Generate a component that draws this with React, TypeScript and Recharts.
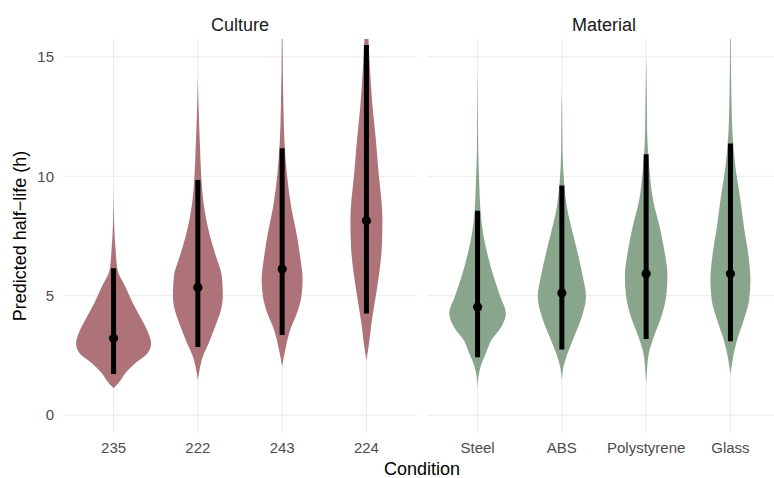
import React from 'react';
import { ComposedChart, Area, Scatter, XAxis, YAxis, CartesianGrid } from 'recharts';

type Profile = [number, number][]; // [value (h), half-width in category units]

const cultureCategories = ['235', '222', '243', '224'];
const materialCategories = ['Steel', 'ABS', 'Polystyrene', 'Glass'];
const yTicks = [0, 5, 10, 15];
const xTicks = [0, 1, 2, 3];

// point-interval summaries
const cultureMedian = [3.22, 5.34, 6.12, 8.14];
const cultureLower = [1.72, 2.85, 3.35, 4.25];
const cultureUpper = [6.15, 9.85, 11.17, 15.5];
const materialMedian = [4.53, 5.11, 5.92, 5.92];
const materialLower = [2.42, 2.75, 3.19, 3.09];
const materialUpper = [8.56, 9.61, 10.92, 11.37];

// violin outlines
const violin235: Profile = [[1.12, 0], [1.4, 0.071], [1.75, 0.139], [2.17, 0.257], [2.59, 0.403], [3.0, 0.445], [3.42, 0.415], [3.98, 0.336], [4.68, 0.229], [5.38, 0.139], [6.08, 0.047], [6.78, 0.027], [8.1, 0.006], [9.5, 0]];
const violin222: Profile = [[1.47, 0], [1.89, 0.02], [2.45, 0.059], [3.0, 0.127], [3.7, 0.205], [4.4, 0.273], [4.96, 0.296], [5.8, 0.285], [6.63, 0.217], [7.47, 0.146], [8.87, 0.068], [10.0, 0.04], [11.1, 0.027], [13.2, 0.006], [14.2, 0]];
const violin243: Profile = [[2.05, 0], [2.86, 0.045], [3.56, 0.095], [4.26, 0.175], [4.96, 0.228], [5.66, 0.243], [6.63, 0.214], [7.61, 0.17], [8.73, 0.107], [10.1, 0.056], [11.5, 0.027], [12.9, 0.015], [15.75, 0.004]];
const violin224: Profile = [[2.3, 0], [3.1, 0.035], [3.8, 0.058], [4.7, 0.098], [5.9, 0.15], [7.0, 0.182], [8.2, 0.19], [9.0, 0.178], [10.0, 0.148], [11.5, 0.113], [13.0, 0.071], [14.5, 0.042], [15.75, 0.024]];
const violinSteel: Profile = [[1.1, 0], [1.6, 0.01], [2.03, 0.036], [2.6, 0.1], [3.14, 0.165], [3.7, 0.283], [4.26, 0.336], [4.96, 0.27], [5.8, 0.19], [6.63, 0.125], [7.61, 0.065], [8.59, 0.034], [9.7, 0.02], [11.1, 0.008], [12.8, 0.004], [14.5, 0]];
const violinABS: Profile = [[1.47, 0], [2.03, 0.02], [2.59, 0.068], [3.28, 0.146], [4.12, 0.237], [4.96, 0.286], [5.8, 0.249], [6.63, 0.198], [7.61, 0.13], [8.73, 0.059], [9.7, 0.027], [11.1, 0.008], [12.8, 0.004], [13.5, 0]];
const violinPolystyrene: Profile = [[1.3, 0], [1.75, 0.008], [2.59, 0.032], [3.28, 0.091], [4.12, 0.181], [4.96, 0.237], [5.8, 0.253], [6.91, 0.215], [7.89, 0.16], [9.0, 0.083], [10.4, 0.036], [11.8, 0.012], [13.2, 0.008], [15.0, 0]];
const violinGlass: Profile = [[1.7, 0], [1.89, 0.008], [2.45, 0.032], [3.14, 0.079], [3.98, 0.158], [4.82, 0.222], [5.66, 0.237], [6.78, 0.21], [7.89, 0.16], [9.0, 0.119], [10.4, 0.059], [11.8, 0.024], [13.2, 0.012], [15.75, 0.004]];

const cultureViolins = [violin235, violin222, violin243, violin224];
const materialViolins = [violinSteel, violinABS, violinPolystyrene, violinGlass];

const cultureFill = '#ad7378';
const materialFill = '#89a58c';

function buildViolinRows(profiles: Profile[]) {
  const rows: any[] = [];
  profiles.forEach((profile, i) => {
    profile.forEach(([v, hw]) => {
      const row: any = { v };
      profiles.forEach((_, j) => {
        row['d' + j] = j === i ? [i - hw, i + hw] : [null, null];
      });
      rows.push(row);
    });
  });
  return rows;
}

function buildIntervals(lower: number[], median: number[], upper: number[]) {
  return lower.map((lo, i) => [
    { x: i, v: lo, median: false },
    { x: i, v: median[i], median: true },
    { x: i, v: upper[i], median: false },
  ]);
}

const intervalShape = (p: any) =>
  p && p.payload && p.payload.median ? <circle cx={p.cx} cy={p.cy} r={4.6} fill="#000" /> : <g />;

function applyScale(ax: any, t: number): number | undefined {
  const s = ax && ax.scale;
  if (typeof s === 'function') return s(t);
  if (s && typeof s.map === 'function') return s.map(t);
  if (s && typeof s.apply === 'function') return s.apply(t);
  return undefined;
}

const hGrid = (props: any) =>
  yTicks.map((t) => applyScale(props && props.yAxis, t)).filter((c) => typeof c === 'number' && isFinite(c as number)) as number[];
const vGrid = (props: any) =>
  xTicks.map((t) => applyScale(props && props.xAxis, t)).filter((c) => typeof c === 'number' && isFinite(c as number)) as number[];

type PanelProps = {
  categories: string[];
  profiles: Profile[];
  lower: number[];
  median: number[];
  upper: number[];
  fill: string;
  width: number;
  showY: boolean;
};

function Panel({ categories, profiles, lower, median, upper, fill, width, showY }: PanelProps) {
  const rows = buildViolinRows(profiles);
  const intervals = buildIntervals(lower, median, upper);
  return (
    <ComposedChart
      layout="vertical"
      width={width}
      height={478}
      data={rows}
      margin={{ top: 39, right: showY ? 3 : 0, bottom: 15, left: 0 }}
    >
      <CartesianGrid
        stroke="#ebebeb"
        strokeWidth={1}
        horizontalCoordinatesGenerator={hGrid}
        verticalCoordinatesGenerator={vGrid}
      />
      <XAxis
        type="number"
        dataKey="x"
        domain={[-0.6, 3.6]}
        ticks={xTicks}
        interval={0}
        allowDataOverflow
        tickFormatter={(t: number) => categories[t] ?? ''}
        axisLine={false}
        tickLine={false}
        tickSize={0}
        tickMargin={9}
        height={30}
        tick={{ fill: '#4d4d4d', fontSize: 15 }}
      />
      <YAxis
        type="number"
        dataKey="v"
        domain={[-0.75, 15.75]}
        ticks={yTicks}
        interval={0}
        reversed
        allowDataOverflow
        axisLine={false}
        tickLine={false}
        tickSize={0}
        tickMargin={9}
        width={showY ? 63 : 7}
        tick={showY ? { fill: '#4d4d4d', fontSize: 15 } : false}
      />
      {profiles.map((_, i) => (
        <Area
          key={'a' + i}
          dataKey={'d' + i}
          type="monotone"
          connectNulls
          stroke="none"
          fill={fill}
          fillOpacity={1}
          dot={false}
          activeDot={false}
          isAnimationActive={false}
        />
      ))}
      {intervals.map((pts, i) => (
        <Scatter
          key={'s' + i}
          data={pts}
          fill="#000"
          line={{ stroke: '#000', strokeWidth: 5 }}
          shape={intervalShape}
          isAnimationActive={false}
        />
      ))}
    </ComposedChart>
  );
}

export default function App() {
  return (
    <div
      style={{
        position: 'relative',
        width: 774,
        height: 478,
        overflow: 'hidden',
        background: '#fff',
        fontFamily: '"Liberation Sans", Arial, Helvetica, sans-serif',
      }}
    >
      <style>{'body{margin:0;}'}</style>
      <svg width={774} height={478} style={{ position: 'absolute', left: 0, top: 0 }}>
        <text x={240} y={30.5} textAnchor="middle" fontSize={18} fill="#1a1a1a">Culture</text>
        <text x={604} y={30.5} textAnchor="middle" fontSize={18} fill="#1a1a1a">Material</text>
        <text x={422} y={475} textAnchor="middle" fontSize={18} fill="#000">Condition</text>
        <text transform="translate(26,236) rotate(-90)" textAnchor="middle" fontSize={18} fill="#000">
          Predicted half−life (h)
        </text>
      </svg>
      <div style={{ position: 'absolute', left: 0, top: 0 }}>
        <Panel
          categories={cultureCategories}
          profiles={cultureViolins}
          lower={cultureLower}
          median={cultureMedian}
          upper={cultureUpper}
          fill={cultureFill}
          width={420}
          showY
        />
      </div>
      <div style={{ position: 'absolute', left: 420, top: 0 }}>
        <Panel
          categories={materialCategories}
          profiles={materialViolins}
          lower={materialLower}
          median={materialMedian}
          upper={materialUpper}
          fill={materialFill}
          width={361}
          showY={false}
        />
      </div>
    </div>
  );
}
